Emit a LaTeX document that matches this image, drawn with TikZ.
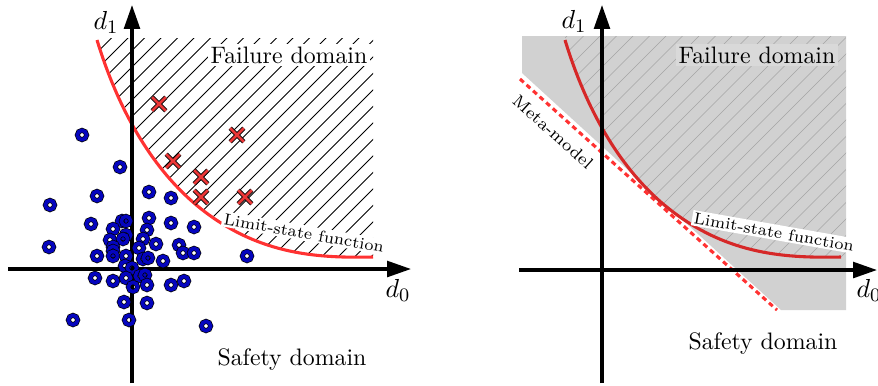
\documentclass[tikz,border=0pt]{standalone}
\usepackage{fontspec}
\usetikzlibrary{arrows.meta,shapes.misc}
\definecolor{lsfred}{RGB}{255,50,50}
\definecolor{lsfdark}{RGB}{214,40,40}
\definecolor{ringblue}{RGB}{5,5,190}
\definecolor{xred}{RGB}{235,55,55}
\definecolor{failgray}{RGB}{209,209,209}
\definecolor{boxgray}{RGB}{217,217,217}
\definecolor{hatchgray}{RGB}{165,165,165}
\tikzset{
  axis/.style={line width=1.3pt,-{Triangle[length=10pt,width=6.6pt]}},
  lsf/.style={line width=1.3pt,lsfred},
  lsfright/.style={line width=1.3pt,lsfdark},
  hatchline/.style={line width=0.4pt,black},
  hatchlight/.style={line width=0.25pt,hatchgray},
  ring/.style={circle,draw=black,line width=0.3pt,double=ringblue,double distance=1.5pt,minimum size=3.9pt,inner sep=0pt},
  xmark/.style={cross out,draw=black,line width=0.35pt,double=xred,double distance=1.1pt,minimum size=5.4pt,inner sep=0pt},
  domainlabel/.style={font=\fontsize{10}{12}\selectfont,inner sep=1pt,anchor=base},
  smalllabel/.style={font=\fontsize{6.8}{8}\selectfont,inner sep=0.8pt,fill=white},
  axislabel/.style={font=\fontsize{11}{13}\selectfont,inner sep=0pt}
}
\begin{document}
\begin{tikzpicture}[x=0.42pt,y=-0.42pt]
\useasboundingbox (0,0) rectangle (878,385);
% ---------------- left panel ----------------
\begin{scope}
  \clip (97,40) .. controls (122,122) and (160,176) .. (200,208) .. controls (260,256) and (320,258) .. (373,257) -- (373,38) -- (97,38) -- cycle;
  \foreach \c in {-300,-283.5,...,420} \draw[hatchline] (\c,400) -- (\c+400,0);
\end{scope}
\node[domainlabel,fill=white] (fdl) at (289,63) {Failure domain};
\draw[lsf] (97,40) .. controls (122,122) and (160,176) .. (200,208) .. controls (260,256) and (320,258) .. (373,257);
\node[smalllabel,rotate=-10] (lsfl) at (304,233) {Limit-state function};
\coordinate (lxs) at (8,269);
\coordinate (lxe) at (411,269);
\coordinate (lys) at (132,383);
\coordinate (lye) at (132,5);
\draw[axis] (lxs) -- (lxe);
\draw[axis] (lys) -- (lye);
\node[axislabel] (ld1) at (106,22) {$d_1$};
\node[axislabel] (ld0) at (398,290) {$d_0$};
\node[domainlabel] (sdl) at (292,365) {Safety domain};
\foreach \p [count=\i] in {(82,135),(120,167),(97,196),(50,205),(149,192),(171,198),(91,224),(122,221),(126,221),(149,218),(171,223),(194,227),(113,229),(147,230),(126,235),(110,240),(123,239),(143,239),(156,244),(179,245),(49,247),(113,247),(113,251),(139,248),(183,253),(194,253),(97,256),(113,256),(126,256),(143,259),(148,258),(163,261),(247,256),(125,266),(132,268),(95,278),(113,281),(126,278),(140,276),(145,275),(147,285),(133,287),(171,285),(184,281),(124,302),(147,303),(73,320),(129,320),(206,326)}
  \node[ring] (c\i) at \p {};
\foreach \p [count=\i] in {(159,104),(237,135),(173,161),(201,177),(201,197),(245,197)}
  \node[xmark] (x\i) at \p {};
% ---------------- right panel ----------------
\fill[failgray] (522,36) -- (846,36) -- (846,310) -- (781,310) -- (522,73) -- cycle;
\begin{scope}
  \clip[shift={(468,0)}] (97,40) .. controls (122,122) and (160,176) .. (200,208) .. controls (260,256) and (320,258) .. (373,257) -- (378,257) -- (378,36) -- (97,36) -- cycle;
  \foreach \c in {170,186.5,...,900} \draw[hatchlight] (\c,400) -- (\c+400,0);
\end{scope}
\node[domainlabel,fill=boxgray] (fdr) at (757,63) {Failure domain};
\coordinate (mms) at (520,79);
\coordinate (mme) at (777,310);
\draw[line width=1.3pt,lsfred,dash pattern=on 2.1pt off 1.6pt] (mms) -- (mme);
\node[smalllabel,rotate=-42,font=\fontsize{7.2}{8}\selectfont] (mml) at (553,132) {Meta-model};
\draw[lsfright,shift={(468,0)}] (97,40) .. controls (122,122) and (160,176) .. (200,208) .. controls (260,256) and (320,258) .. (373,257);
\node[smalllabel,rotate=-10] (lsfr) at (774,232) {Limit-state function};
\coordinate (rxs) at (519,270);
\coordinate (rxe) at (877,270);
\coordinate (rys) at (602,383);
\coordinate (rye) at (602,5);
\draw[axis] (rxs) -- (rxe);
\draw[axis] (rys) -- (rye);
\node[axislabel] (rd1) at (574,21) {$d_1$};
\node[axislabel] (rd0) at (869,290) {$d_0$};
\node[domainlabel] (sdr) at (763,349) {Safety domain};
\end{tikzpicture}
\end{document}
